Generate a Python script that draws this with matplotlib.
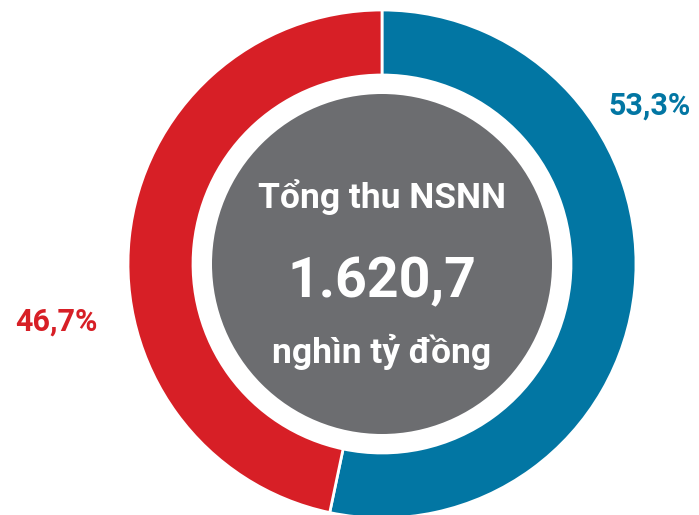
import numpy as np
import matplotlib
matplotlib.use("Agg")
import matplotlib.pyplot as plt
from matplotlib.patches import Circle

# Dữ liệu cơ cấu thu NSNN
labels = ["Phần 1", "Phần 2"]
shares = [53.3, 46.7]
colors = ["#0276A3", "#D71F26"]
total_value = "1.620,7"
title_line = "Tổng thu NSNN"
unit_line = "nghìn tỷ đồng"

W, H = 699, 515
fig = plt.figure(figsize=(W / 100, H / 100), dpi=100)
ax = fig.add_axes([0, 0, 1, 1])

cx, cy = 382, H - 264
r_out = 254

ax.pie(shares, colors=colors, startangle=90, counterclock=False,
       center=(cx, cy), radius=r_out,
       wedgeprops=dict(width=65, edgecolor="white", linewidth=2))

# vòng tròn xám ở giữa
ax.add_patch(Circle((cx, cy), 170, facecolor="#6C6D70", edgecolor="none", zorder=3))

font_c = ["Roboto", "DejaVu Sans"]
ax.text(cx, H - 208, title_line, ha="center", va="baseline", color="white",
        fontsize=25.5, fontweight="bold", family=font_c, zorder=4)
ax.text(cx, H - 297, total_value, ha="center", va="baseline", color="white",
        fontsize=40, fontweight="bold", family=font_c, zorder=4)
ax.text(cx, H - 363, unit_line, ha="center", va="baseline", color="white",
        fontsize=25.5, fontweight="bold", family=font_c, zorder=4)

# nhãn phần trăm
pct = [f"{v:.1f}".replace(".", ",") + "%" for v in shares]
ax.text(650, H - 115, pct[0], ha="center", va="baseline", color=colors[0],
        fontsize=22, fontweight="bold", family=font_c)
ax.text(56, H - 331, pct[1], ha="center", va="baseline", color=colors[1],
        fontsize=22, fontweight="bold", family=font_c)

ax.set_xlim(0, W)
ax.set_ylim(0, H)
ax.set_aspect("equal")
ax.axis("off")

fig.savefig("out.png", dpi=100)
